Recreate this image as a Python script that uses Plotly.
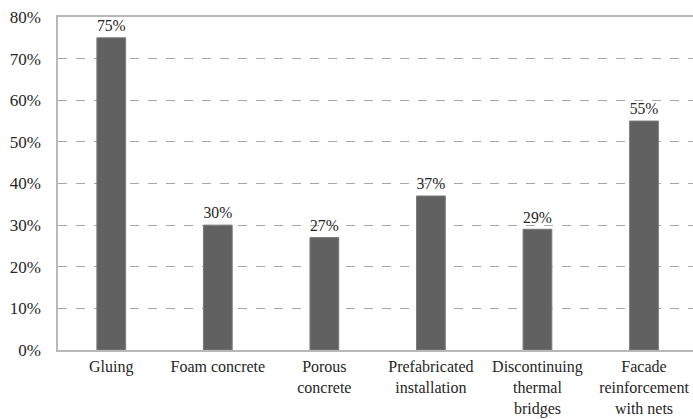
import plotly.graph_objects as go

# Share of respondents choosing each facade insulation technique
categories = [
    "Gluing",
    "Foam concrete",
    "Porous<br>concrete",
    "Prefabricated<br>installation",
    "Discontinuing<br>thermal<br>bridges",
    "Facade<br>reinforcement<br>with nets",
]
shares = [75, 30, 27, 37, 29, 55]
y_ticks = [0, 10, 20, 30, 40, 50, 60, 70, 80]

font_family = "Liberation Serif, Times New Roman, Times, serif"
text_color = "#262626"

fig = go.Figure(
    go.Bar(
        x=categories,
        y=shares,
        width=0.27,
        marker=dict(color="#616161", line=dict(color="#7a7a7a", width=1)),
        text=[f"{v}%" for v in shares],
        textposition="outside",
        textfont=dict(family=font_family, size=17, color=text_color),
        cliponaxis=False,
    )
)

fig.update_layout(
    width=693,
    height=419,
    margin=dict(l=58, r=0, t=17, b=69),
    paper_bgcolor="white",
    plot_bgcolor="white",
    showlegend=False,
    font=dict(family=font_family, size=17, color=text_color),
)

fig.update_xaxes(
    range=[-0.5, 5.46],
    automargin=False,
    showline=True,
    linecolor="#b8b8b8",
    linewidth=1.5,
    mirror=True,
    showgrid=False,
    ticks="",
    ticklabelstandoff=1,
    tickfont=dict(family=font_family, size=16, color=text_color),
    tickangle=0,
)

fig.update_yaxes(
    range=[0, 80],
    automargin=False,
    tickvals=y_ticks,
    ticktext=[f"{v}%" for v in y_ticks],
    showline=True,
    linecolor="#b8b8b8",
    linewidth=1.5,
    showgrid=True,
    gridcolor="#a8a8a8",
    griddash="dash",
    gridwidth=1,
    zeroline=False,
    ticks="",
    ticklabelstandoff=12,
    tickfont=dict(family=font_family, size=17, color=text_color),
)

fig.write_html("out.html")
